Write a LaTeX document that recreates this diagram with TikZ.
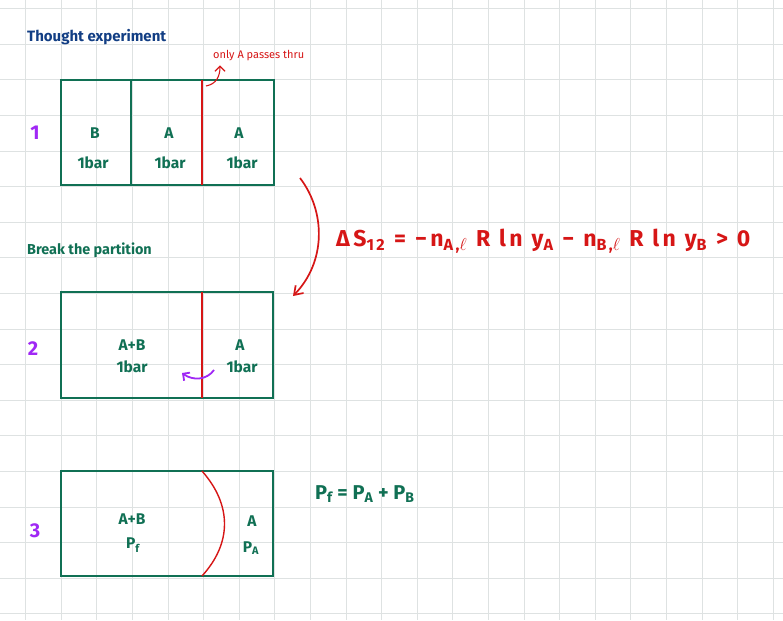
\documentclass[tikz,border=0pt]{standalone}
\usepackage{fontspec}
\setmainfont{Fira Sans}
\usetikzlibrary{arrows.meta, positioning}
\definecolor{gridgray}{RGB}{222,226,226}
\definecolor{boxgreen}{RGB}{16,112,84}
\definecolor{inkred}{RGB}{214,22,22}
\definecolor{inkpurple}{RGB}{160,40,245}
\definecolor{inkblue}{RGB}{18,62,132}

\begin{document}
\begin{tikzpicture}[x=1pt, y=-1pt, >={Straight Barb[length=5pt]},
  box/.style={draw=boxgreen, line width=1.4pt},
  wall/.style={draw=inkred, line width=1.4pt},
  lbl/.style={text=boxgreen, font=\bfseries\fontsize{15.5}{16}\selectfont, inner sep=0pt},
  num/.style={text=inkpurple, font=\bfseries\fontsize{20}{21}\selectfont, inner sep=0pt}]
  \useasboundingbox[fill=white] (0,0) rectangle (783,620);
  % grid paper
  \foreach \i in {0,...,21} \draw[gridgray, line width=0.9pt] (25.7+35.6*\i,0)--(25.7+35.6*\i,620);
  \foreach \j in {0,...,17} \draw[gridgray, line width=0.9pt] (0,8.7+35.6*\j)--(783,8.7+35.6*\j);
  % headings
  \node[anchor=west, inner sep=0pt, text=inkblue, font=\bfseries\fontsize{15}{16}\selectfont] (title) at (27,37) {Thought experiment};
  \node[anchor=west, inner sep=0pt, text=boxgreen, font=\bfseries\fontsize{14.4}{15}\selectfont] (brk) at (27,250) {Break the partition};
  % 1: three compartments
  \draw[box] (61,80) rectangle (274,185); \draw[box] (131,80)--(131,185); \draw[wall] (202,80)--(202,185);
  \node[num] (n1) at (35,133) {1};
  \node[lbl] (g1a) at (95,133) {B};   \node[lbl] (p1a) at (93,163) {1bar};
  \node[lbl] (g1b) at (169,133) {A};  \node[lbl] (p1b) at (170,163) {1bar};
  \node[lbl] (g1c) at (239,133) {A};  \node[lbl] (p1c) at (242,163) {1bar};
  \node[anchor=west, inner sep=0pt, text=inkred, font=\fontsize{11}{12}\selectfont] (note) at (213,56) {only A passes thru};
  \coordinate (memb) at (206,86);
  \draw[->, inkred, line width=1.1pt] (memb) .. controls (216,84) and (220,77) .. ([xshift=7pt, yshift=-4pt]note.south west);
  % entropy change
  \coordinate (s1) at (300,178); \coordinate (s2) at (293,296);
  \draw[->, inkred, line width=1.7pt, >={Straight Barb[length=8pt, width=11pt]}] (s1) .. controls (326,212) and (326,262) .. (s2);
  \node[anchor=west, inner sep=0pt, text=inkred, font=\bfseries\fontsize{23}{24}\selectfont\addfontfeatures{LetterSpace=15}] (eqS) at (336,241)
    {ΔS\textsubscript{12} = −n\textsubscript{A,$\ell$} R ln y\textsubscript{A} − n\textsubscript{B,$\ell$} R ln y\textsubscript{B} > 0};
  % 2: partition removed
  \draw[box] (61,292) rectangle (273,398); \draw[wall] (202,292)--(202,398);
  \node[num] (n2) at (33,349) {2};
  \node[lbl] (g2a) at (132,345) {A+B}; \node[lbl] (p2a) at (132,367) {1bar};
  \node[lbl] (g2b) at (240,345) {A};   \node[lbl] (p2b) at (242,367) {1bar};
  \coordinate (fl1) at (214,370); \coordinate (fl2) at (182,373);
  \draw[->, inkpurple, line width=1.8pt] (fl1) .. controls (207,380) and (193,381) .. (fl2);
  % 3: membrane bulges
  \draw[box] (61,471) rectangle (273,576);
  \draw[wall] (202,471) .. controls (232,505) and (232,543) .. (202,576);
  \node[num] (n3) at (35,531) {3};
  \node[lbl] (g3a) at (132,519) {A+B}; \node[lbl] (p3a) at (133,545) {P\textsubscript{f}};
  \node[lbl] (g3b) at (252,521) {A};   \node[lbl] (p3b) at (251,548) {P\textsubscript{A}};
  \node[anchor=west, inner sep=0pt, text=boxgreen, font=\bfseries\fontsize{20}{21}\selectfont] (eqP) at (315,494)
    {P\textsubscript{f} = P\textsubscript{A} + P\textsubscript{B}};
\end{tikzpicture}
\end{document}
